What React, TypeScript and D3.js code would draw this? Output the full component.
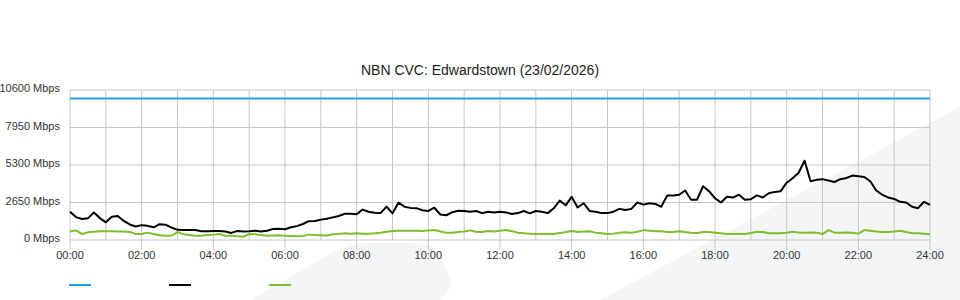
import React from "react";
import * as d3 from "d3";

const title = "NBN CVC: Edwardstown (23/02/2026)";
const sampleStepMinutes = 10;
const xTickLabels = ["00:00","02:00","04:00","06:00","08:00","10:00","12:00","14:00","16:00","18:00","20:00","22:00","24:00"];
const yTicks = [0, 2650, 5300, 7950, 10600];

const capacityTimes = [0, 1440];
const capacityValues = [10000, 10000];

const downloadValues = [
  2000, 1620, 1480, 1530, 1950, 1550, 1250, 1650, 1700, 1350,
  1100, 950, 1050, 1000, 900, 1120, 1080, 880, 720, 700,
  710, 700, 620, 610, 640, 630, 600, 500, 640, 600,
  620, 660, 600, 650, 780, 800, 760, 900, 980, 1130,
  1330, 1340, 1440, 1500, 1600, 1700, 1850, 1860, 1815, 2150,
  2000, 1930, 1900, 2355, 1885, 2640, 2355, 2270, 2250, 2100,
  2050, 2280, 1800, 1750, 1960, 2070, 2050, 2000, 2050, 1900,
  2000, 1950, 2000, 1950, 1840, 1900, 2050, 1885, 2050, 2000,
  1900, 2240, 2780, 2450, 3050, 2300, 2600, 2050, 2000, 1900,
  1900, 2000, 2200, 2120, 2200, 2650, 2500, 2600, 2550, 2350,
  3150, 3150, 3200, 3500, 2850, 2850, 3800, 3450, 2950, 2650,
  3050, 3000, 3200, 2850, 2880, 3150, 3000, 3300, 3400, 3450,
  4050, 4360, 4750, 5600, 4150, 4250, 4300, 4200, 4100, 4300,
  4380, 4550, 4500, 4450, 4150, 3500, 3200, 3000, 2900, 2700,
  2650, 2350, 2250, 2700, 2475,
];

const uploadValues = [
  600, 680, 430, 540, 580, 620, 620, 620, 600, 600,
  560, 430, 420, 520, 420, 330, 300, 300, 560, 400,
  350, 300, 300, 350, 380, 420, 300, 300, 260, 230,
  420, 400, 350, 300, 320, 330, 300, 280, 260, 280,
  380, 350, 340, 320, 400, 420, 480, 450, 480, 450,
  450, 480, 520, 590, 630, 660, 660, 660, 660, 640,
  680, 700, 600, 520, 520, 560, 600, 680, 580, 560,
  630, 600, 650, 700, 620, 520, 470, 450, 430, 420,
  450, 430, 500, 560, 640, 560, 600, 620, 520, 480,
  430, 450, 520, 540, 520, 580, 700, 660, 620, 620,
  560, 560, 620, 560, 520, 500, 560, 560, 520, 480,
  430, 430, 430, 430, 500, 580, 560, 480, 470, 480,
  520, 590, 530, 520, 530, 520, 420, 700, 520, 520,
  530, 520, 450, 700, 650, 600, 560, 560, 600, 660,
  560, 480, 470, 440, 400,
];

const COLORS = { capacity: "#1da1df", download: "#000000", upload: "#7cbf2a" };

export default function App() {
  const W = 960, H = 300;
  const left = 70, right = 930, top = 90, bottom = 240;
  const x = d3.scaleLinear().domain([0, 1440]).range([left, right]);
  const y = d3.scaleLinear().domain([0, 10600]).range([bottom, top]);
  const line = d3.line<[number, number]>().x(d => x(d[0])).y(d => y(d[1]));
  const dl = downloadValues.map((v, i) => [i * sampleStepMinutes, v] as [number, number]);
  const ul = uploadValues.map((v, i) => [i * sampleStepMinutes, v] as [number, number]);
  const cap = capacityValues.map((v, i) => [capacityTimes[i], v] as [number, number]);
  const hours = d3.range(0, 25);
  const font = "Arial, 'Liberation Sans', sans-serif";

  return (
    <div style={{ position: "fixed", left: 0, top: 0, width: W, height: H, background: "#fff" }}>
      <svg width={W} height={H} style={{ display: "block" }}>
        <path d="M250,300 L330,254 Q348,244 368,243 L410,243 Q432,244 440,252 L452,285 L440,300 Z" fill="#f4f5f7" />
        <path d="M600,300 L960,107 L960,300 Z" fill="#f4f5f7" />
        <text x={480} y={75} textAnchor="middle" fontFamily={font} fontSize={14} fill="#222">{title}</text>
        {yTicks.map(t => (
          <g key={"y" + t}>
            <line x1={left} x2={right} y1={y(t)} y2={y(t)} stroke="#c6c6c6" strokeWidth={1} />
            <text x={60} y={y(t) + 2} textAnchor="end" fontFamily={font} fontSize={11} fill="#333">{t} Mbps</text>
          </g>
        ))}
        {hours.map(h => (
          <line key={"v" + h} x1={x(h * 60)} x2={x(h * 60)} y1={top} y2={h % 2 === 0 ? bottom + 10 : bottom} stroke="#c6c6c6" strokeWidth={1} />
        ))}
        {xTickLabels.map((lab, i) => (
          <text key={lab} x={x(i * 120)} y={259} textAnchor="middle" fontFamily={font} fontSize={11} fill="#333">{lab}</text>
        ))}
        <path d={line(cap) || ""} fill="none" stroke={COLORS.capacity} strokeWidth={2} />
        <path d={line(ul) || ""} fill="none" stroke={COLORS.upload} strokeWidth={2} strokeLinejoin="round" />
        <path d={line(dl) || ""} fill="none" stroke={COLORS.download} strokeWidth={2} strokeLinejoin="round" />
        {[COLORS.capacity, COLORS.download, COLORS.upload].map((c, i) => (
          <line key={c} x1={69 + i * 100} x2={91 + i * 100} y1={285} y2={285} stroke={c} strokeWidth={2} />
        ))}
      </svg>
    </div>
  );
}
